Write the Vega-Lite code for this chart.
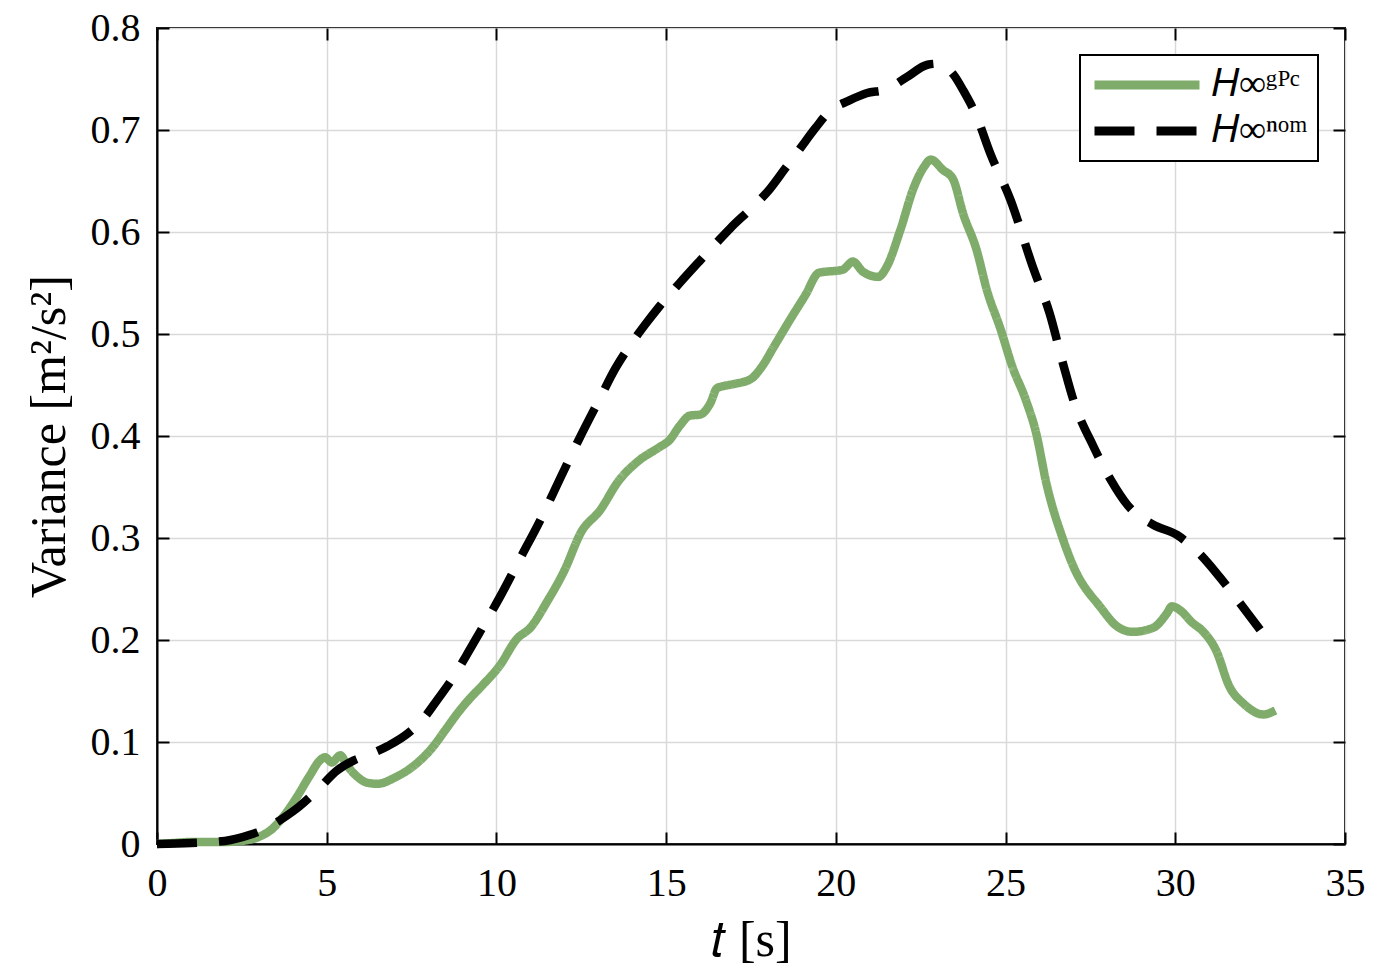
{
  "$schema": "https://vega.github.io/schema/vega-lite/v6.json",
  "width": 1188,
  "height": 816,
  "autosize": "none",
  "padding": {"left": 157, "top": 28, "right": 37, "bottom": 132},
  "background": "white",
  "datasets": {
    "curves": [
      {"t": 0, "v": 0, "series": "gPC"},
      {"t": 0.5, "v": 0.001, "series": "gPC"},
      {"t": 1.0, "v": 0.002, "series": "gPC"},
      {"t": 1.5, "v": 0.002, "series": "gPC"},
      {"t": 2.0, "v": 0.002, "series": "gPC"},
      {"t": 2.5, "v": 0.003, "series": "gPC"},
      {"t": 3.0, "v": 0.007, "series": "gPC"},
      {"t": 3.4, "v": 0.015, "series": "gPC"},
      {"t": 3.7, "v": 0.026, "series": "gPC"},
      {"t": 4.1, "v": 0.045, "series": "gPC"},
      {"t": 4.5, "v": 0.067, "series": "gPC"},
      {"t": 4.8, "v": 0.082, "series": "gPC"},
      {"t": 4.95, "v": 0.085, "series": "gPC"},
      {"t": 5.15, "v": 0.080, "series": "gPC"},
      {"t": 5.4, "v": 0.087, "series": "gPC"},
      {"t": 5.6, "v": 0.077, "series": "gPC"},
      {"t": 5.9, "v": 0.066, "series": "gPC"},
      {"t": 6.2, "v": 0.060, "series": "gPC"},
      {"t": 6.5, "v": 0.059, "series": "gPC"},
      {"t": 7.0, "v": 0.065, "series": "gPC"},
      {"t": 7.65, "v": 0.079, "series": "gPC"},
      {"t": 8.1, "v": 0.094, "series": "gPC"},
      {"t": 8.5, "v": 0.112, "series": "gPC"},
      {"t": 8.85, "v": 0.128, "series": "gPC"},
      {"t": 9.2, "v": 0.142, "series": "gPC"},
      {"t": 9.6, "v": 0.156, "series": "gPC"},
      {"t": 10.1, "v": 0.175, "series": "gPC"},
      {"t": 10.6, "v": 0.201, "series": "gPC"},
      {"t": 11.0, "v": 0.212, "series": "gPC"},
      {"t": 11.5, "v": 0.238, "series": "gPC"},
      {"t": 12.0, "v": 0.268, "series": "gPC"},
      {"t": 12.5, "v": 0.306, "series": "gPC"},
      {"t": 13.05, "v": 0.327, "series": "gPC"},
      {"t": 13.6, "v": 0.356, "series": "gPC"},
      {"t": 14.2, "v": 0.376, "series": "gPC"},
      {"t": 14.8, "v": 0.389, "series": "gPC"},
      {"t": 15.1, "v": 0.396, "series": "gPC"},
      {"t": 15.4, "v": 0.410, "series": "gPC"},
      {"t": 15.7, "v": 0.420, "series": "gPC"},
      {"t": 16.0, "v": 0.421, "series": "gPC"},
      {"t": 16.3, "v": 0.432, "series": "gPC"},
      {"t": 16.5, "v": 0.447, "series": "gPC"},
      {"t": 16.7, "v": 0.449, "series": "gPC"},
      {"t": 17.0, "v": 0.451, "series": "gPC"},
      {"t": 17.5, "v": 0.456, "series": "gPC"},
      {"t": 17.8, "v": 0.467, "series": "gPC"},
      {"t": 18.2, "v": 0.489, "series": "gPC"},
      {"t": 18.65, "v": 0.514, "series": "gPC"},
      {"t": 19.1, "v": 0.538, "series": "gPC"},
      {"t": 19.5, "v": 0.560, "series": "gPC"},
      {"t": 20.2, "v": 0.563, "series": "gPC"},
      {"t": 20.5, "v": 0.571, "series": "gPC"},
      {"t": 20.8, "v": 0.561, "series": "gPC"},
      {"t": 21.25, "v": 0.556, "series": "gPC"},
      {"t": 21.5, "v": 0.566, "series": "gPC"},
      {"t": 21.9, "v": 0.602, "series": "gPC"},
      {"t": 22.3, "v": 0.644, "series": "gPC"},
      {"t": 22.6, "v": 0.664, "series": "gPC"},
      {"t": 22.8, "v": 0.671, "series": "gPC"},
      {"t": 23.15, "v": 0.661, "series": "gPC"},
      {"t": 23.45, "v": 0.652, "series": "gPC"},
      {"t": 23.75, "v": 0.618, "series": "gPC"},
      {"t": 24.15, "v": 0.582, "series": "gPC"},
      {"t": 24.45, "v": 0.543, "series": "gPC"},
      {"t": 24.85, "v": 0.505, "series": "gPC"},
      {"t": 25.2, "v": 0.468, "series": "gPC"},
      {"t": 25.6, "v": 0.435, "series": "gPC"},
      {"t": 25.9, "v": 0.403, "series": "gPC"},
      {"t": 26.2, "v": 0.354, "series": "gPC"},
      {"t": 26.7, "v": 0.298, "series": "gPC"},
      {"t": 27.0, "v": 0.272, "series": "gPC"},
      {"t": 27.8, "v": 0.232, "series": "gPC"},
      {"t": 28.3, "v": 0.213, "series": "gPC"},
      {"t": 28.75, "v": 0.208, "series": "gPC"},
      {"t": 29.35, "v": 0.212, "series": "gPC"},
      {"t": 29.75, "v": 0.226, "series": "gPC"},
      {"t": 29.9, "v": 0.233, "series": "gPC"},
      {"t": 30.15, "v": 0.229, "series": "gPC"},
      {"t": 30.5, "v": 0.217, "series": "gPC"},
      {"t": 30.8, "v": 0.209, "series": "gPC"},
      {"t": 31.2, "v": 0.190, "series": "gPC"},
      {"t": 31.6, "v": 0.154, "series": "gPC"},
      {"t": 32.0, "v": 0.138, "series": "gPC"},
      {"t": 32.6, "v": 0.127, "series": "gPC"},
      {"t": 32.95, "v": 0.131, "series": "gPC"},
      {"t": 0, "v": 0, "series": "nom"},
      {"t": 1.0, "v": 0.001, "series": "nom"},
      {"t": 2.0, "v": 0.003, "series": "nom"},
      {"t": 2.74, "v": 0.009, "series": "nom"},
      {"t": 3.2, "v": 0.015, "series": "nom"},
      {"t": 3.7, "v": 0.025, "series": "nom"},
      {"t": 4.2, "v": 0.037, "series": "nom"},
      {"t": 4.7, "v": 0.052, "series": "nom"},
      {"t": 5.3, "v": 0.072, "series": "nom"},
      {"t": 5.8, "v": 0.082, "series": "nom"},
      {"t": 6.2, "v": 0.087, "series": "nom"},
      {"t": 6.8, "v": 0.096, "series": "nom"},
      {"t": 7.45, "v": 0.110, "series": "nom"},
      {"t": 7.9, "v": 0.125, "series": "nom"},
      {"t": 8.25, "v": 0.141, "series": "nom"},
      {"t": 8.7, "v": 0.162, "series": "nom"},
      {"t": 9.1, "v": 0.184, "series": "nom"},
      {"t": 9.5, "v": 0.207, "series": "nom"},
      {"t": 10.1, "v": 0.242, "series": "nom"},
      {"t": 10.7, "v": 0.280, "series": "nom"},
      {"t": 11.3, "v": 0.318, "series": "nom"},
      {"t": 11.9, "v": 0.360, "series": "nom"},
      {"t": 12.45, "v": 0.398, "series": "nom"},
      {"t": 13.05, "v": 0.437, "series": "nom"},
      {"t": 13.5, "v": 0.466, "series": "nom"},
      {"t": 13.9, "v": 0.487, "series": "nom"},
      {"t": 14.4, "v": 0.510, "series": "nom"},
      {"t": 14.8, "v": 0.527, "series": "nom"},
      {"t": 15.4, "v": 0.550, "series": "nom"},
      {"t": 16.0, "v": 0.572, "series": "nom"},
      {"t": 16.5, "v": 0.590, "series": "nom"},
      {"t": 16.9, "v": 0.604, "series": "nom"},
      {"t": 17.5, "v": 0.623, "series": "nom"},
      {"t": 18.05, "v": 0.642, "series": "nom"},
      {"t": 18.5, "v": 0.662, "series": "nom"},
      {"t": 18.95, "v": 0.682, "series": "nom"},
      {"t": 19.4, "v": 0.702, "series": "nom"},
      {"t": 19.8, "v": 0.718, "series": "nom"},
      {"t": 20.4, "v": 0.729, "series": "nom"},
      {"t": 20.9, "v": 0.736, "series": "nom"},
      {"t": 21.5, "v": 0.740, "series": "nom"},
      {"t": 22.1, "v": 0.752, "series": "nom"},
      {"t": 22.7, "v": 0.764, "series": "nom"},
      {"t": 23.0, "v": 0.765, "series": "nom"},
      {"t": 23.45, "v": 0.755, "series": "nom"},
      {"t": 23.75, "v": 0.739, "series": "nom"},
      {"t": 24.15, "v": 0.713, "series": "nom"},
      {"t": 24.55, "v": 0.677, "series": "nom"},
      {"t": 25.15, "v": 0.631, "series": "nom"},
      {"t": 25.8, "v": 0.566, "series": "nom"},
      {"t": 26.3, "v": 0.520, "series": "nom"},
      {"t": 26.7, "v": 0.470, "series": "nom"},
      {"t": 27.0, "v": 0.435, "series": "nom"},
      {"t": 27.6, "v": 0.389, "series": "nom"},
      {"t": 28.1, "v": 0.357, "series": "nom"},
      {"t": 28.6, "v": 0.332, "series": "nom"},
      {"t": 29.35, "v": 0.313, "series": "nom"},
      {"t": 30.05, "v": 0.303, "series": "nom"},
      {"t": 30.7, "v": 0.285, "series": "nom"},
      {"t": 31.3, "v": 0.262, "series": "nom"},
      {"t": 32.0, "v": 0.232, "series": "nom"},
      {"t": 32.5, "v": 0.210, "series": "nom"}
    ]
  },
  "data": {"name": "curves"},
  "layer": [
    {
      "mark": {"type": "line", "strokeWidth": 8.5, "strokeCap": "butt", "strokeJoin": "round", "interpolate": "monotone"},
      "encoding": {
        "x": {
          "field": "t", "type": "quantitative",
          "scale": {"domain": [0, 35], "nice": false},
          "axis": {
            "orient": "bottom", "values": [0, 5, 10, 15, 20, 25, 30, 35],
            "title": "𝑡 [s]", "grid": true, "tickSize": -12, "labelPadding": 31,
            "titlePadding": 12
          }
        },
        "y": {
          "field": "v", "type": "quantitative",
          "scale": {"domain": [0, 0.8], "nice": false},
          "axis": {
            "orient": "left", "values": [0, 0.1, 0.2, 0.3, 0.4, 0.5, 0.6, 0.7, 0.8],
            "format": ".1~f", "title": "Variance [m²/s²]", "grid": true,
            "tickSize": -12, "labelPadding": 29, "titlePadding": 16
          }
        },
        "color": {
          "field": "series", "type": "nominal",
          "scale": {"domain": ["gPC", "nom"], "range": ["#7fac6b", "#000000"]},
          "legend": {
            "orient": "top-right", "offset": 27, "title": null,
            "labelExpr": "datum.label == 'gPC' ? '𝐻∞ᵍᴾᶜ' : '𝐻∞ⁿᵒᵐ'"
          }
        },
        "strokeDash": {
          "field": "series", "type": "nominal",
          "scale": {"domain": ["gPC", "nom"], "range": [[1, 0], [40, 22]]},
          "legend": {
            "orient": "top-right", "offset": 27, "title": null,
            "labelExpr": "datum.label == 'gPC' ? '𝐻∞ᵍᴾᶜ' : '𝐻∞ⁿᵒᵐ'"
          }
        }
      }
    },
    {
      "mark": {"type": "line", "strokeOpacity": 0},
      "encoding": {
        "x": {
          "field": "t", "type": "quantitative",
          "axis": {
            "orient": "top", "values": [0, 5, 10, 15, 20, 25, 30, 35],
            "title": null, "labels": false, "grid": false, "domain": false, "tickSize": -12
          }
        },
        "y": {
          "field": "v", "type": "quantitative",
          "axis": {
            "orient": "right", "values": [0, 0.1, 0.2, 0.3, 0.4, 0.5, 0.6, 0.7, 0.8],
            "title": null, "labels": false, "grid": false, "domain": false, "tickSize": -12
          }
        },
        "detail": {"field": "series", "type": "nominal"}
      }
    }
  ],
  "resolve": {"axis": {"x": "independent", "y": "independent"}},
  "config": {
    "font": "Liberation Serif",
    "view": {"stroke": "#000000", "strokeWidth": 2},
    "axis": {
      "labelFont": "Liberation Serif", "labelFontSize": 40, "labelColor": "#000000",
      "titleFont": "Liberation Serif", "titleFontSize": 50, "titleFontWeight": "normal", "titleColor": "#000000",
      "domainColor": "#000000", "domainWidth": 2, "tickColor": "#000000", "tickWidth": 2,
      "gridColor": "#d9d9d9", "gridWidth": 1.5, "labelFlush": false, "labelOverlap": false
    },
    "legend": {
      "fillColor": "#ffffff", "strokeColor": "#000000", "strokeWidth": 2, "cornerRadius": 0,
      "padding": 10, "symbolType": "stroke", "symbolSize": 11025, "symbolStrokeWidth": 9,
      "labelFont": "Liberation Serif", "labelFontSize": 38, "labelColor": "#000000",
      "rowPadding": 6, "labelOffset": 8, "clipHeight": 40
    }
  }
}
